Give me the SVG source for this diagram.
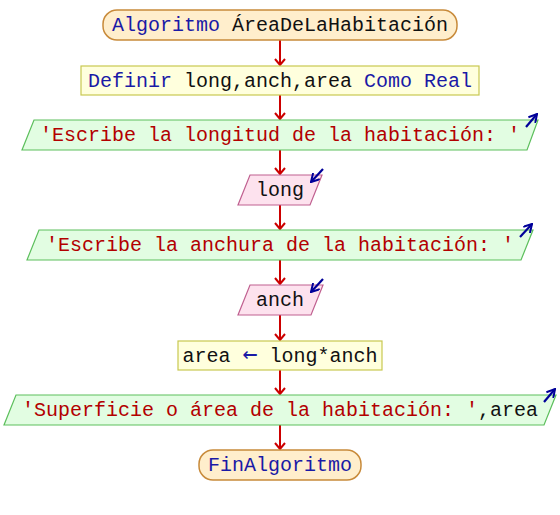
<svg xmlns="http://www.w3.org/2000/svg" width="560" height="515" viewBox="0 0 560 515">
<style>
text{font-family:"Liberation Mono","Courier New",monospace;font-size:20px;text-anchor:middle;white-space:pre}
.kw{fill:#1a1aa6}
.id{fill:#111111}
.st{fill:#b30000}
.arr{font-family:"DejaVu Sans Mono",monospace;font-size:25px}
.term{fill:#ffeecc;stroke:#c88a3a;stroke-width:1.5}
.proc{fill:#ffffdd;stroke:#c8c850;stroke-width:1.2}
.out{fill:#e2fde2;stroke:#5cbf5c;stroke-width:1.2}
.in{fill:#fde2ee;stroke:#c06090;stroke-width:1.2}
.flow{stroke:#cc0000;stroke-width:2;fill:none;marker-end:url(#ah)}
.io{stroke:#000099;stroke-width:2.2;fill:none;marker-end:url(#bh)}
</style>
<defs>
<marker id="ah" viewBox="0 0 12 10" refX="6" refY="9" markerWidth="12" markerHeight="10" markerUnits="userSpaceOnUse" orient="0">
<path d="M1,3 L6,9 L11,3" fill="none" stroke="#cc0000" stroke-width="2"/>
</marker>
<marker id="bh" viewBox="0 0 10 10" refX="9" refY="5" markerWidth="10" markerHeight="10" markerUnits="userSpaceOnUse" orient="auto">
<path d="M1,0.5 L9,5 L1,9.5" fill="none" stroke="#000099" stroke-width="2"/>
</marker>
</defs>
<g id="connectors">
<line class="flow" x1="280" y1="40" x2="280" y2="65"/>
<line class="flow" x1="280" y1="95" x2="280" y2="119"/>
<line class="flow" x1="280" y1="150" x2="280" y2="174"/>
<line class="flow" x1="280" y1="205" x2="280" y2="229"/>
<line class="flow" x1="280" y1="260" x2="280" y2="284"/>
<line class="flow" x1="280" y1="315" x2="280" y2="340"/>
<line class="flow" x1="280" y1="370" x2="280" y2="394"/>
<line class="flow" x1="280" y1="425" x2="280" y2="449"/>
</g>
<g id="start">
<rect class="term" x="103" y="10" width="354" height="30" rx="14" ry="14"/>
<text x="280" y="31"><tspan class="kw">Algoritmo </tspan><tspan class="id">ÁreaDeLaHabitación</tspan></text>
</g>
<g id="definir">
<rect class="proc" x="81" y="66" width="398" height="29"/>
<text x="280" y="87"><tspan class="kw">Definir </tspan><tspan class="id">long,anch,area </tspan><tspan class="kw">Como Real</tspan></text>
</g>
<g id="out1">
<polygon class="out" points="34,120 538,120 527,150 22,150"/>
<text x="280" y="141" class="st">'Escribe la longitud de la habitación: '</text>
<line class="io" x1="526" y1="127" x2="537" y2="114"/>
</g>
<g id="in1">
<polygon class="in" points="250,175 322,175 310,205 238,205"/>
<text x="280" y="196" class="id">long</text>
<line class="io" x1="323" y1="169" x2="311" y2="182"/>
</g>
<g id="out2">
<polygon class="out" points="39,230 533,230 521,260 27,260"/>
<text x="280" y="251" class="st">'Escribe la anchura de la habitación: '</text>
<line class="io" x1="520" y1="237" x2="532" y2="224"/>
</g>
<g id="in2">
<polygon class="in" points="250,285 323,285 311,315 238,315"/>
<text x="280" y="306" class="id">anch</text>
<line class="io" x1="323" y1="279" x2="311" y2="292"/>
</g>
<g id="assign">
<rect class="proc" x="178" y="341" width="204" height="29"/>
<text x="280" y="362"><tspan class="id">area </tspan><tspan class="kw arr">←</tspan><tspan class="id"> long*anch</tspan></text>
</g>
<g id="out3">
<polygon class="out" points="16,395 556,395 544,425 4,425"/>
<text x="280" y="416"><tspan class="st">'Superficie o área de la habitación: '</tspan><tspan class="id">,area</tspan></text>
<line class="io" x1="544" y1="402" x2="555" y2="389"/>
</g>
<g id="end">
<rect class="term" x="199" y="450" width="162" height="30" rx="14" ry="14"/>
<text x="280" y="471" class="kw">FinAlgoritmo</text>
</g>
</svg>
